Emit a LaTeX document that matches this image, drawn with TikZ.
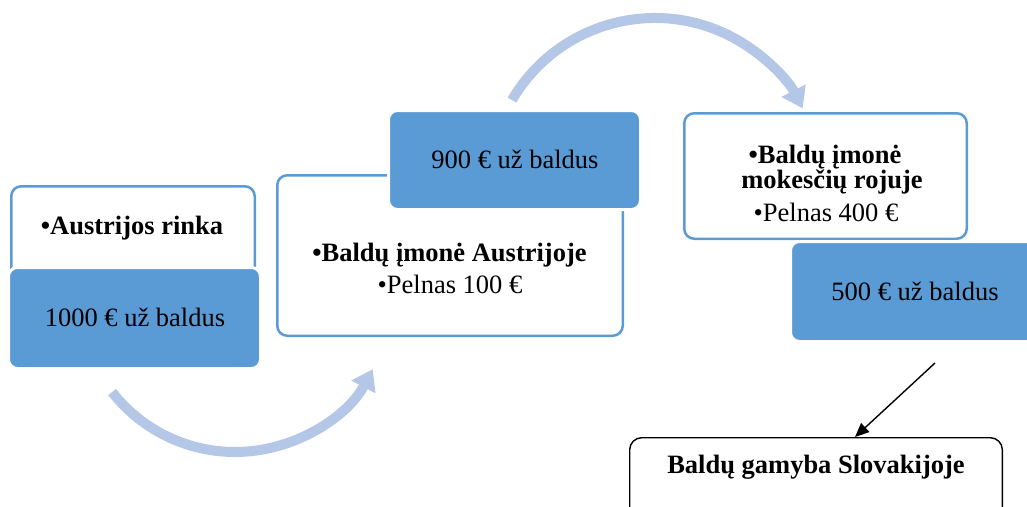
\documentclass[tikz,border=0pt]{standalone}
\usepackage{fontspec}
\setmainfont{Liberation Serif}
\usetikzlibrary{arrows.meta}
\definecolor{boxblue}{HTML}{5B9BD5}
\definecolor{arcblue}{HTML}{B4C7E7}
\begin{document}
\begin{tikzpicture}[x=1pt,y=-1pt,
  whitebox/.style={draw=boxblue, line width=2.5pt, fill=white, rounded corners=10pt, inner sep=0pt},
  bluebox/.style={draw=white, line width=3pt, fill=boxblue, rounded corners=9pt, inner sep=0pt},
  blackbox/.style={draw=black, line width=1.4pt, fill=white, rounded corners=12pt, inner sep=0pt},
  lbl/.style={anchor=base, inner sep=0pt, font=\fontsize{26.5}{25}\selectfont},
  hdr/.style={anchor=base, inner sep=0pt, font=\fontsize{26.5}{25}\selectfont\bfseries},
  flow/.style={draw=arcblue, line width=10pt, -{Triangle[width=26pt,length=20pt]}},
  pointer/.style={draw=black, line width=1.4pt, -{Triangle[width=12pt,length=14pt]}}]
\useasboundingbox (0,0) rectangle (1027,506);
\clip (0,0) rectangle (1027,506);

% curved flow arrows
\coordinate (c1) at (235,296);
\coordinate (c2) at (655,183.7);
\draw[flow] (c1) ++(142:156) arc[start angle=142, end angle=28, radius=156];
\draw[flow] (c2) ++(210.3:165.7) arc[start angle=210.3, end angle=333, radius=165.7];

% market
\node[whitebox, minimum width=243.5pt, minimum height=147.5pt] (mkt) at (133,260) {};
\node[bluebox, minimum width=252pt, minimum height=101pt] (p1) at (134.5,318) {};
% company in Austria
\node[whitebox, minimum width=345.5pt, minimum height=160.5pt] (aut) at (450,255.5) {};
\node[bluebox, minimum width=252pt, minimum height=99pt] (p2) at (514.5,160) {};
% company in tax haven
\node[whitebox, minimum width=282.5pt, minimum height=125.5pt] (hav) at (825.5,176) {};
\node[bluebox, minimum width=252pt, minimum height=100pt] (p3) at (916.5,291.5) {};
% production
\node[blackbox, minimum width=372.6pt, minimum height=110pt] (slov) at (816,492.7) {};

\coordinate (tail) at (935,363);
\draw[pointer] (tail) -- ([xshift=39pt]slov.north);

% labels
\node[hdr] (t1) at (132,234) {•Austrijos rinka};
\node[lbl] (t2) at (135,326) {1000 € už baldus};
\node[lbl] (t3) at (515,168) {900 € už baldus};
\node[hdr] (t4) at (449.5,261) {•Baldų įmonė Austrijoje};
\node[lbl] (t5) at (450,293) {•Pelnas 100 €};
\node[hdr] (t6) at (825,163) {•Baldų įmonė};
\node[hdr] (t7) at (832,188) {mokesčių rojuje};
\node[lbl] (t8) at (826,221) {•Pelnas 400 €};
\node[lbl] (t9) at (915,300) {500 € už baldus};
\node[hdr] (t10) at (816,473) {Baldų gamyba Slovakijoje};
\end{tikzpicture}
\end{document}
